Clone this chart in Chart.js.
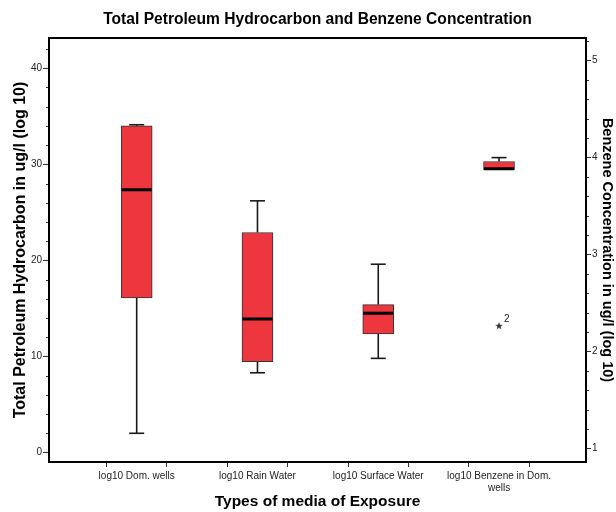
<!DOCTYPE html>
<html><head><meta charset="utf-8">
<script src="https://cdn.jsdelivr.net/npm/chart.js@4.4.1/dist/chart.umd.min.js"></script>
<style>html,body{margin:0;padding:0;background:#fff;}canvas{display:block;}</style>
</head><body>
<canvas id="c" width="616" height="512"></canvas>
<script>
// ---------- data ----------
const categories = ['log10 Dom. wells', 'log10 Rain Water', 'log10 Surface Water', ['log10 Benzene in Dom.', 'wells']];
// Total petroleum hydrocarbon boxes (left axis), categories 0..2
const tphIndex  = [0, 1, 2];
const tphMin    = [2.0, 8.3, 9.8];
const tphQ1     = [16.1, 9.45, 12.35];
const tphMedian = [27.35, 13.9, 14.5];
const tphQ3     = [34.0, 22.9, 15.4];
const tphMax    = [34.12, 26.2, 19.6];
// Benzene box (right axis), category 3
const benzIndex  = [3];
const benzMin    = [3.875];
const benzQ1     = [3.875];
const benzMedian = [3.885];
const benzQ3     = [3.96];
const benzMax    = [4.0];
// Extreme value
const outlierIndex = [3];
const outlierValue = [2.265];
const outlierLabel = ['2'];
// Tick labels
const leftTicks  = [0, 10, 20, 30, 40];
const rightTicks = [1, 2, 3, 4, 5];
const xTickPositions = [-0.5, 0, 0.5, 1, 1.5, 2, 2.5, 3, 3.5];

const FONT = "'Liberation Sans', Arial, sans-serif";
const BOX_FILL = '#EE363F';

// small filled star for the extreme value
const star = document.createElement('canvas');
star.width = 8; star.height = 8;
(function(){
  const c = star.getContext('2d');
  c.fillStyle = '#333';
  c.beginPath();
  for (let k = 0; k < 10; k++) {
    const r = k % 2 === 0 ? 4 : 1.7;
    const a = -Math.PI / 2 + k * Math.PI / 5;
    const px = 4 + r * Math.cos(a), py = 4.3 + r * Math.sin(a);
    k === 0 ? c.moveTo(px, py) : c.lineTo(px, py);
  }
  c.closePath(); c.fill();
})();

const boxParts = {
  id: 'boxParts',
  beforeDraw(chart) {
    const ctx = chart.ctx;
    ctx.save(); ctx.fillStyle = '#fff'; ctx.fillRect(0, 0, chart.width, chart.height); ctx.restore();
  },
  beforeDatasetsDraw(chart) {
    const ctx = chart.ctx, xs = chart.scales.x;
    function whiskers(idx, mn, q1, q3, mx, ys) {
      idx.forEach((i, k) => {
        const cx = xs.getPixelForValue(i);
        ctx.strokeStyle = '#1a1a1a'; ctx.lineWidth = 1.6;
        const seg = (a, b) => {
          if (Math.abs(a - b) < 1e-9) return;
          const pa = ys.getPixelForValue(a), pb = ys.getPixelForValue(b);
          ctx.beginPath(); ctx.moveTo(cx, pa); ctx.lineTo(cx, pb); ctx.stroke();
          ctx.beginPath(); ctx.moveTo(cx - 7.5, pb); ctx.lineTo(cx + 7.5, pb); ctx.stroke();
        };
        seg(q3[k], mx[k]);
        seg(q1[k], mn[k]);
      });
    }
    ctx.save();
    whiskers(tphIndex, tphMin, tphQ1, tphQ3, tphMax, chart.scales.y);
    whiskers(benzIndex, benzMin, benzQ1, benzQ3, benzMax, chart.scales.y2);
    ctx.restore();
  },
  afterDatasetsDraw(chart) {
    const ctx = chart.ctx, xs = chart.scales.x, ys = chart.scales.y, y2 = chart.scales.y2;
    const a = chart.chartArea;
    ctx.save();
    // medians
    ctx.strokeStyle = '#000'; ctx.lineWidth = 3;
    const med = (idx, vals, scale) => idx.forEach((i, k) => {
      const cx = xs.getPixelForValue(i), py = scale.getPixelForValue(vals[k]);
      ctx.beginPath(); ctx.moveTo(cx - 15, py); ctx.lineTo(cx + 15, py); ctx.stroke();
    });
    med(tphIndex, tphMedian, ys);
    med(benzIndex, benzMedian, y2);
    // outlier labels
    const meta = chart.getDatasetMeta(2);
    ctx.fillStyle = '#222'; ctx.font = '10px ' + FONT; ctx.textAlign = 'left'; ctx.textBaseline = 'middle';
    meta.data.forEach((pt, k) => ctx.fillText(outlierLabel[k], pt.x + 5, pt.y - 6));
    // minor ticks
    ctx.strokeStyle = '#333'; ctx.lineWidth = 1;
    for (let v = 0; v <= 42.001; v += 2) {
      if (Math.abs(v % 10) < 1e-6) continue;
      const py = Math.round(ys.getPixelForValue(v)) + 0.5;
      ctx.beginPath(); ctx.moveTo(a.left - 3, py); ctx.lineTo(a.left, py); ctx.stroke();
    }
    for (let v = 1; v <= 5.2001; v += 0.2) {
      if (Math.abs(v - Math.round(v)) < 1e-6) continue;
      const py = Math.round(y2.getPixelForValue(v)) + 0.5;
      ctx.beginPath(); ctx.moveTo(a.right, py); ctx.lineTo(a.right + 3, py); ctx.stroke();
    }
    // frame
    ctx.strokeStyle = '#000'; ctx.lineWidth = 2;
    ctx.strokeRect(a.left, a.top, a.right - a.left, a.bottom - a.top);
    ctx.restore();
  }
};

new Chart(document.getElementById('c'), {
  type: 'bar',
  data: {
    datasets: [
      {
        type: 'bar', xAxisID: 'x', yAxisID: 'y',
        data: tphIndex.map((i, k) => ({ x: i, y: [tphQ1[k], tphQ3[k]] })),
        backgroundColor: BOX_FILL, borderColor: '#333', borderWidth: 1, borderSkipped: false,
        barThickness: 31, grouped: false
      },
      {
        type: 'bar', xAxisID: 'x', yAxisID: 'y2',
        data: benzIndex.map((i, k) => ({ x: i, y: [benzQ1[k], benzQ3[k]] })),
        backgroundColor: BOX_FILL, borderColor: '#333', borderWidth: 1, borderSkipped: false,
        barThickness: 31, grouped: false
      },
      {
        type: 'scatter', xAxisID: 'x', yAxisID: 'y2',
        data: outlierIndex.map((i, k) => ({ x: i, y: outlierValue[k] })),
        pointStyle: star, pointRadius: 4, showLine: false
      }
    ]
  },
  options: {
    responsive: false, animation: false, devicePixelRatio: 1,
    layout: { padding: 0 },
    plugins: {
      legend: { display: false }, tooltip: { enabled: false },
      title: {
        display: true, text: 'Total Petroleum Hydrocarbon and Benzene Concentration',
        color: '#000', font: { family: FONT, size: 15.6, weight: 'bold' },
        padding: { top: 10, bottom: 9.3 }, fullSize: false
      }
    },
    scales: {
      x: {
        type: 'linear', min: -0.726, max: 3.72, offset: false,
        afterBuildTicks: s => { s.ticks = xTickPositions.map(v => ({ value: v })); },
        afterFit: s => { s.height = 50; },
        ticks: {
          autoSkip: false, maxRotation: 0, minRotation: 0, padding: 3,
          color: '#222', font: { family: FONT, size: 10 },
          callback: v => Number.isInteger(v) ? categories[v] : ''
        },
        grid: { drawOnChartArea: false, drawTicks: true, tickLength: 5, color: '#333' },
        border: { display: false },
        title: { display: true, text: 'Types of media of Exposure', color: '#000',
          font: { family: FONT, size: 15.5, weight: 'bold' }, padding: { top: 0, bottom: 1 } }
      },
      y: {
        type: 'linear', position: 'left', min: -0.99, max: 43.15,
        afterBuildTicks: s => { s.ticks = leftTicks.map(v => ({ value: v })); },
        afterFit: s => { s.width = 49; },
        ticks: { color: '#222', font: { family: FONT, size: 10 }, padding: 1, callback: v => String(v) },
        grid: { drawOnChartArea: false, tickLength: 6, color: '#333' },
        border: { display: false },
        title: { display: true, text: 'Total Petroleum Hydrocarbon in ug/l (log 10)', color: '#000',
          font: { family: FONT, size: 16, weight: 'bold' }, padding: { top: 11, bottom: 0 } }
      },
      y2: {
        type: 'linear', position: 'right', min: 0.859, max: 5.234,
        afterBuildTicks: s => { s.ticks = rightTicks.map(v => ({ value: v })); },
        afterFit: s => { s.width = 30; },
        ticks: { color: '#222', font: { family: FONT, size: 10 }, padding: 1, callback: v => String(v) },
        grid: { drawOnChartArea: false, tickLength: 5, color: '#333' },
        border: { display: false },
        title: { display: true, text: 'Benzene Concentration in ug/l (log 10)', color: '#000',
          font: { family: FONT, size: 14.5, weight: 'bold' }, padding: { top: 0, bottom: 0 } }
      }
    }
  },
  plugins: [boxParts]
});
</script>
</body></html>
